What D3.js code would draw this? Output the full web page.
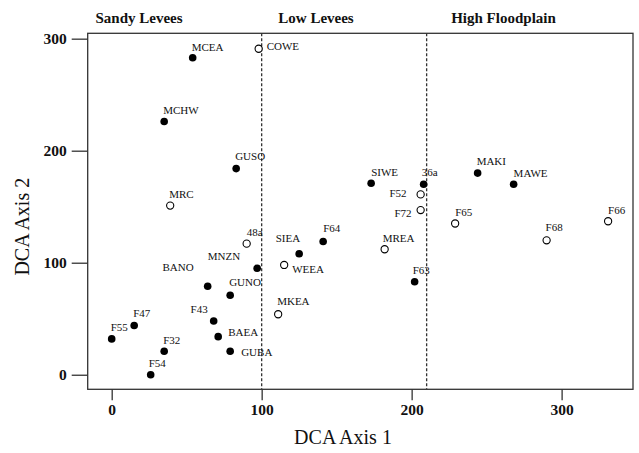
<!DOCTYPE html>
<html>
<head>
<meta charset="utf-8">
<script src="https://cdn.jsdelivr.net/npm/d3@7/dist/d3.min.js"></script>
<style>
  html, body { margin: 0; padding: 0; background: #fff; }
  svg { display: block; }
  text { font-family: "Liberation Serif", "Times New Roman", serif; fill: #111; }
</style>
</head>
<body>
<svg id="chart" width="639" height="453"></svg>
<script>
// ---- Data ----
const sites = ["MCEA","COWE","MCHW","GUSO","MRC","48a","SIEA","WEEA","MNZN","BANO","GUNO","MKEA","F43","BAEA","GUBA","F47","F55","F32","F54","SIWE","36a","MAKI","MAWE","F52","F72","F65","F64","MREA","F63","F68","F66"];
const axis1 = [54, 98, 35, 83, 39, 90, 125, 115, 97, 64, 79, 111, 68, 71, 79, 15, 0, 35, 26, 173, 208, 244, 268, 206, 206, 229, 141, 182, 202, 290, 331];
const axis2 = [283, 291, 226, 184, 151, 117, 108, 98, 95, 79, 71, 54, 48, 34, 21, 44, 32, 21, 0, 171, 170, 180, 170, 161, 147, 135, 119, 112, 83, 120, 137];
const filled = [true,false,true,true,false,false,true,false,true,true,true,false,true,true,true,true,true,true,true,true,true,true,true,false,false,false,true,false,true,false,false];
const xTicks = [0, 100, 200, 300];
const yTicks = [0, 100, 200, 300];
const boundaries = [100, 210];
const regionNames = ["Sandy Levees", "Low Levees", "High Floodplain"];
const xTitle = "DCA Axis 1";
const yTitle = "DCA Axis 2";

// ---- Label placement (styling) ----
const labelPlacement = {
  "MCEA":["start",-1,-7], "COWE":["start",8,1], "MCHW":["start",-1,-8], "GUSO":["start",-1,-9],
  "MRC":["start",-1,-8], "48a":["start",0,-8], "SIEA":["end",1,-12], "WEEA":["start",8,8],
  "MNZN":["end",-17,-8], "BANO":["end",-14,-15], "GUNO":["start",-1,-9], "MKEA":["start",-1,-9],
  "F43":["end",-6,-8], "BAEA":["start",10,-1], "GUBA":["start",11,5], "F47":["start",-1,-8],
  "F55":["start",-1,-8], "F32":["start",-1,-7], "F54":["start",-2,-8], "SIWE":["start",0,-7],
  "36a":["start",-2,-8], "MAKI":["start",-1,-8], "MAWE":["start",0,-7], "F52":["end",-14,3],
  "F72":["end",-9,7], "F65":["start",0,-8], "F64":["start",0,-9], "MREA":["start",-2,-7],
  "F63":["start",-2,-8], "F68":["start",-1,-9], "F66":["start",0,-7]
};
const regionCenters = [139, 316, 503.5];

// ---- Layout ----
const svg = d3.select("#chart");
const plot = { left: 87.7, right: 633, top: 33.3, bottom: 389.3 };

const x = d3.scaleLinear().domain([-16.0, 347.6]).range([plot.left, plot.right]);
const y = d3.scaleLinear().domain([-13.0, 304.8]).range([plot.bottom, plot.top]);

const points = sites.map((s, i) => ({ name: s, a1: axis1[i], a2: axis2[i], filled: filled[i] }));

// Frame
svg.append("rect")
  .attr("x", plot.left).attr("y", plot.top)
  .attr("width", plot.right - plot.left).attr("height", plot.bottom - plot.top)
  .attr("fill", "none").attr("stroke", "#333").attr("stroke-width", 1.3);

// Axes
const xAxis = d3.axisBottom(x).tickValues(xTicks).tickSize(11).tickPadding(4).tickFormat(d3.format("d"));
const yAxis = d3.axisLeft(y).tickValues(yTicks).tickSize(16).tickPadding(5).tickFormat(d3.format("d"));

const gx = svg.append("g").attr("transform", `translate(0,${plot.bottom})`).call(xAxis);
const gy = svg.append("g").attr("transform", `translate(${plot.left},0)`).call(yAxis);
[gx, gy].forEach(g => {
  g.select(".domain").remove();
  g.selectAll(".tick line").attr("stroke", "#333").attr("stroke-width", 1.3);
  g.selectAll(".tick text")
    .style("font-family", '"Liberation Serif", "Times New Roman", serif')
    .style("font-size", "15.5px").style("font-weight", "bold").attr("fill", "#222");
});

// Boundary dashed lines
svg.append("g").selectAll("line").data(boundaries).join("line")
  .attr("x1", d => x(d)).attr("x2", d => x(d))
  .attr("y1", plot.top).attr("y2", plot.bottom)
  .attr("stroke", "#333").attr("stroke-width", 1.3)
  .attr("stroke-dasharray", "3,2");

// Region names
svg.append("g").selectAll("text").data(regionNames).join("text")
  .attr("x", (d, i) => regionCenters[i]).attr("y", 22.7)
  .attr("text-anchor", "middle")
  .style("font-size", "15px").style("font-weight", "bold")
  .text(d => d);

// Points
const gp = svg.append("g");
gp.selectAll("circle").data(points).join("circle")
  .attr("cx", d => x(d.a1)).attr("cy", d => y(d.a2))
  .attr("r", d => d.filled ? 3.8 : 3.6)
  .attr("fill", d => d.filled ? "#000" : "#fff")
  .attr("stroke", "#000").attr("stroke-width", d => d.filled ? 0 : 1.1);

// Point labels
gp.selectAll("text").data(points).join("text")
  .attr("x", d => x(d.a1) + labelPlacement[d.name][1])
  .attr("y", d => y(d.a2) + labelPlacement[d.name][2])
  .attr("text-anchor", d => labelPlacement[d.name][0])
  .style("font-size", "11px")
  .text(d => d.name);

// Axis titles
svg.append("text")
  .attr("x", 343).attr("y", 444)
  .attr("text-anchor", "middle")
  .style("font-size", "20px")
  .text(xTitle);

svg.append("text")
  .attr("transform", "translate(29,226.7) rotate(-90)")
  .attr("text-anchor", "middle")
  .style("font-size", "20px")
  .text(yTitle);
</script>
</body>
</html>
